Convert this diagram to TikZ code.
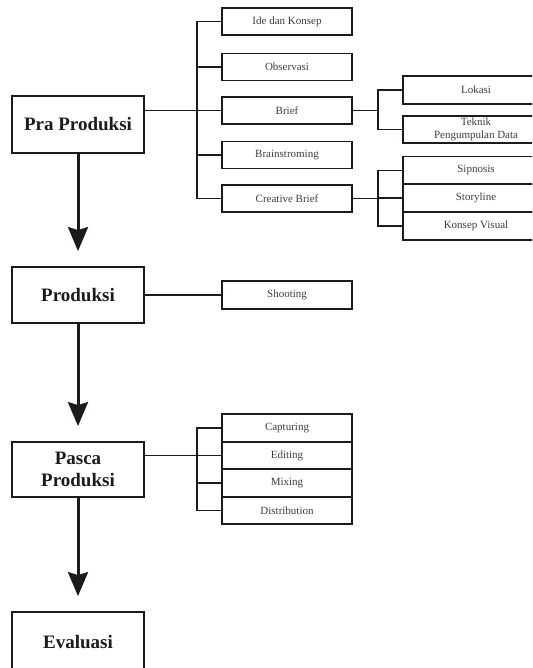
\documentclass[tikz,border=0pt]{standalone}
\usepackage{fontspec}
\setmainfont{Liberation Serif}
\usetikzlibrary{arrows.meta}
\definecolor{ink}{HTML}{1E1A1A}
\begin{document}
\begin{tikzpicture}[x=1pt,y=-1pt,
 mainbox/.style={draw=ink, line width=1.8pt, minimum width=132pt, minimum height=57pt, inner sep=0pt, font=\fontsize{19}{22}\selectfont\bfseries, align=center, text=ink},
 subbox/.style={draw=ink, line width=1.4pt, minimum width=130pt, minimum height=27pt, inner sep=0pt, font=\fontsize{11}{13}\selectfont, text=ink!85, align=center},
 rbox/.style={subbox, minimum width=146pt},
 link/.style={draw=ink, line width=1.6pt},
 flow/.style={draw=ink, line width=3pt, -{Stealth[length=24pt,width=20pt,inset=3pt]}, shorten >=15pt}
]
\useasboundingbox (0,0) rectangle (532,668);
\clip (0,0) rectangle (532,668);
\fill[white] (0,0) rectangle (532,668);

\coordinate (t1) at (197,0);
\coordinate (t2) at (378,0);

% Pra Produksi
\node[mainbox] (pra) at (78,124.5) {Pra Produksi};
\node[subbox] (ide) at (287,21.5) {Ide dan Konsep};
\node[subbox] (obs) at (287,67) {Observasi};
\node[subbox] (brief) at (287,110.5) {Brief};
\node[subbox] (brain) at (287,155) {Brainstroming};
\node[subbox] (cb) at (287,198.5) {Creative Brief};
\node[rbox, minimum height=28pt] (lok) at (476,90) {Lokasi};
\node[rbox] (tek) at (476,129.5) {Teknik\\Pengumpulan Data};
\node[rbox, minimum height=27.5pt] (sip) at (476,170.5) {Sipnosis};
\node[rbox, minimum height=28pt] (sto) at (476,198) {Storyline};
\node[rbox, minimum height=28pt] (kv) at (476,226) {Konsep Visual};

% Produksi
\node[mainbox, minimum height=56pt] (prod) at (78,295) {Produksi};
\node[subbox, minimum height=28pt] (shoot) at (287,295) {Shooting};

% Pasca Produksi
\node[mainbox, minimum height=55pt] (pasca) at (78,469.5) {Pasca\\Produksi};
\node[subbox, minimum height=28pt] (cap) at (287,428) {Capturing};
\node[subbox] (edit) at (287,455.5) {Editing};
\node[subbox, minimum height=28pt] (mix) at (287,483) {Mixing};
\node[subbox] (dist) at (287,510.5) {Distribution};

% Evaluasi
\node[mainbox, minimum height=60pt] (eva) at (78,642) {Evaluasi};

% connectors: Pra Produksi
\draw[link] (pra.east |- brief) -- (brief.west);
\draw[link] (ide.west) -- (ide.west -| t1) |- (cb.west);
\draw[link] (obs.west) -- (obs.west -| t1);
\draw[link] (brain.west) -- (brain.west -| t1);
\draw[link] (brief.east) -- (brief.east -| t2);
\draw[link] (lok.west) -- (lok.west -| t2) |- (tek.west);
\draw[link] (cb.east) -- (cb.east -| t2);
\draw[link] (sip.west) -- (sip.west -| t2) |- (kv.west);
\draw[link] (sto.west) -- (sto.west -| t2);

% Produksi
\draw[link] (prod.east) -- (shoot.west);

% Pasca
\draw[link] (pasca.east |- edit) -- (edit.west);
\draw[link] (cap.west) -- (cap.west -| t1) |- (dist.west);
\draw[link] (mix.west) -- (mix.west -| t1);

% flow arrows
\draw[flow] (pra.south) -- (prod.north);
\draw[flow] (prod.south) -- (pasca.north);
\draw[flow] (pasca.south) -- (eva.north);
\end{tikzpicture}
\end{document}
